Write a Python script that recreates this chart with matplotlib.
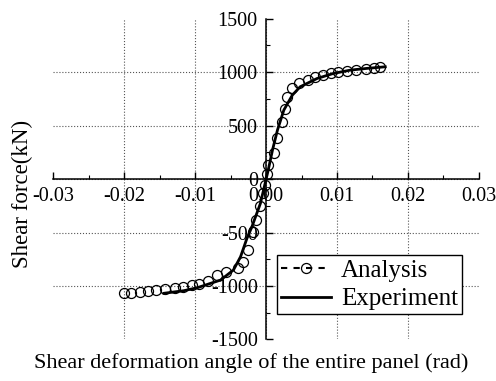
import matplotlib
matplotlib.use("Agg")
import matplotlib.pyplot as plt
from matplotlib.lines import Line2D
import numpy as np

plt.rcParams['font.family'] = ['Liberation Serif', 'DejaVu Serif']
plt.rcParams['axes.unicode_minus'] = False

# analysis results (rad, kN)
ana_x = [-0.0201, -0.0190, -0.0178, -0.0166, -0.0155, -0.0142, -0.0129, -0.0117,
         -0.0105, -0.0094, -0.0082, -0.0069, -0.0057, -0.0039, -0.0032, -0.0025,
         -0.0018, -0.0014, -0.0009, -0.0004, -0.0001, 0.0001, 0.0003,
         0.0011, 0.0016, 0.0022, 0.0026, 0.0030, 0.0037, 0.0047, 0.0059, 0.0069,
         0.0080, 0.0091, 0.0102, 0.0114, 0.0127, 0.0141, 0.0152, 0.0161]
ana_y = [-1068, -1063, -1056, -1047, -1040, -1028, -1016, -1007,
         -993, -979, -950, -897, -866, -829, -773, -664,
         -498, -383, -252, -130, -56, 44, 131,
         246, 386, 530, 654, 764, 848, 900, 925, 950,
         975, 991, 1003, 1012, 1019, 1025, 1035, 1044]

# test results (rad, kN)
exp_x = [-0.0144, -0.0116, -0.0097, -0.0064, -0.0046, -0.0036, -0.0027, -0.0020,
         -0.0008, 0.0, 0.0003, 0.0009, 0.0016, 0.0025, 0.0037, 0.0048, 0.0072,
         0.0095, 0.0119, 0.0142, 0.0168]
exp_y = [-1068, -1044, -1016, -944, -850, -726, -554, -446,
         -227, 0, 84, 271, 458, 645, 785, 863, 941,
         988, 1019, 1035, 1050]

xticks = [-0.03, -0.02, -0.01, 0.0, 0.01, 0.02, 0.03]
yticks = [-1500, -1000, -500, 0, 500, 1000, 1500]

fig = plt.figure(figsize=(4.96, 3.81), dpi=100)
ax = fig.add_axes([0.1075, 0.109, 0.858, 0.842])

ax.plot(ana_x, ana_y, 'o', ms=7.2, mfc='none', mec='black', mew=0.9, zorder=3)
ax.plot(exp_x, exp_y, '-', color='black', lw=2.0, zorder=4)

ax.set_xlim(-0.03, 0.03)
ax.set_ylim(-1500, 1500)
ax.set_xticks(xticks)
ax.set_xticklabels(['%.2f' % v for v in xticks])
ax.set_yticks(yticks)
ax.set_xticks(np.arange(-0.025, 0.03, 0.01), minor=True)
ax.set_yticks(np.arange(-1250, 1500, 500), minor=True)

# axes cross at the origin
ax.spines['left'].set_position(('data', 0))
ax.spines['bottom'].set_position(('data', 0))
ax.spines['top'].set_visible(False)
ax.spines['right'].set_visible(False)
for s in ['left', 'bottom']:
    ax.spines[s].set_linewidth(1.1)

ax.tick_params(which='major', direction='in', length=5, width=1.0, labelsize=14.5, pad=6)
ax.tick_params(which='minor', direction='in', length=3, width=0.8)

ax.grid(True, which='major', linestyle=':', color='#555555', linewidth=0.8)
for t in [ax.xaxis.get_major_ticks()[0], ax.xaxis.get_major_ticks()[-1],
          ax.yaxis.get_major_ticks()[0], ax.yaxis.get_major_ticks()[-1]]:
    t.gridline.set_visible(False)

ax.set_xlabel('Shear deformation angle of the entire panel (rad)', fontsize=16)
ax.set_ylabel('Shear force(kN)', fontsize=16.5)
ax.xaxis.set_label_coords(0.466, -0.044)
ax.yaxis.set_label_coords(-0.048, 0.453)

handles = [Line2D([], [], color='black', ls='--', lw=1.5, marker='o', ms=7.2,
                  mfc='none', mec='black', mew=0.9, dashes=(3, 3)),
           Line2D([], [], color='black', ls='-', lw=2.0)]
leg = ax.legend(handles, ['Analysis', 'Experiment'], loc='lower right',
                bbox_to_anchor=(0.96, 0.079), fontsize=18, frameon=True,
                fancybox=False, framealpha=1, edgecolor='black',
                handlelength=2.0, labelspacing=0.25, borderpad=0.15,
                handletextpad=0.4, borderaxespad=0)
leg.get_frame().set_linewidth(1.0)

fig.savefig('out.png', dpi=100)
